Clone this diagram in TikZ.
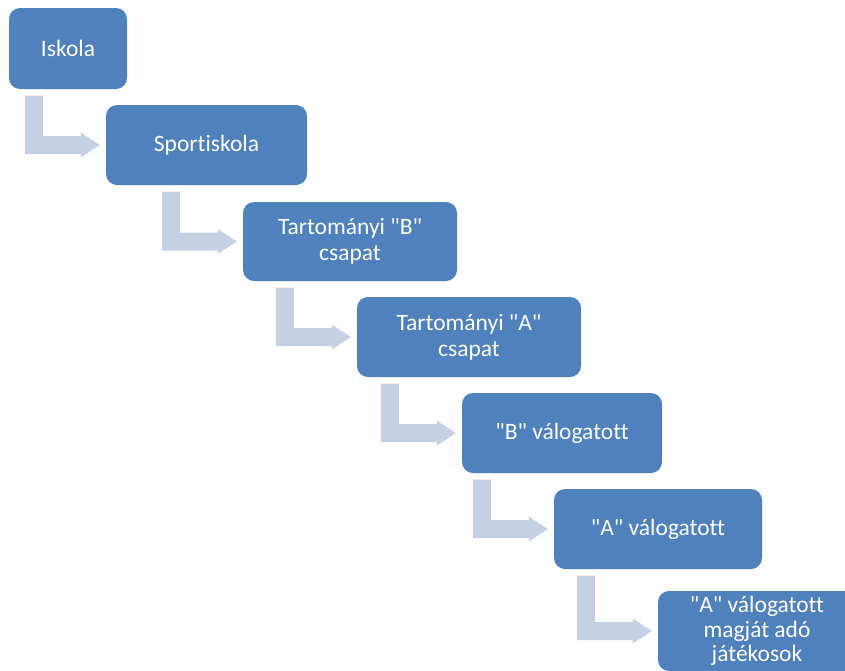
\documentclass[tikz,border=0pt]{standalone}
\usepackage{fontspec}
\newfontfamily\boxfont{Carlito}[Ligatures=NoCommon]
\usetikzlibrary{calc}
\definecolor{boxblue}{RGB}{79,129,189}
\definecolor{arrowcol}{RGB}{197,208,227}
\tikzset{
  stepbox/.style={fill=boxblue, draw=none, rounded corners=11pt, inner sep=2pt,
    align=center, text=white, font=\boxfont\fontsize{23.5}{26}\selectfont},
}
\newcommand{\bentarrow}[2]{%
  \fill[arrowcol] let \p1=(#1.south), \p2=(#2.west) in
    (\x2-81pt,\y1-6.5pt) -- (\x2-63pt,\y1-6.5pt) -- (\x2-63pt,\y2+9pt)
    -- (\x2-25pt,\y2+9pt) -- (\x2-25pt,\y2+12.5pt) -- (\x2-6pt,\y2)
    -- (\x2-25pt,\y2-12.5pt) -- (\x2-25pt,\y2-9pt) -- (\x2-81pt,\y2-9pt) -- cycle;}
\begin{document}
\begin{tikzpicture}[x=1pt,y=-1pt]
\useasboundingbox (0,0) rectangle (845,670);
\clip (0,0) rectangle (845,670);
\node[stepbox, minimum width=118pt, minimum height=81pt] (b1) at (68,48.5) {Iskola};
\node[stepbox, minimum width=201pt, minimum height=80pt] (b2) at (206.5,145) {Sportiskola};
\node[stepbox, minimum width=214pt, minimum height=79pt] (b3) at (350,241.5) {Tartományi "B"\\csapat};
\node[stepbox, minimum width=224pt, minimum height=80pt] (b4) at (469,337) {Tartományi "A"\\csapat};
\node[stepbox, minimum width=200pt, minimum height=80pt] (b5) at (562,433) {"B" válogatott};
\node[stepbox, minimum width=208pt, minimum height=80pt] (b6) at (658,529) {"A" válogatott};
\node[stepbox, minimum width=198pt, minimum height=80pt, font=\boxfont\fontsize{23.5}{24.5}\selectfont] (b7) at (757,631) {"A" válogatott\\magját adó\\játékosok};
\bentarrow{b1}{b2}
\bentarrow{b2}{b3}
\bentarrow{b3}{b4}
\bentarrow{b4}{b5}
\bentarrow{b5}{b6}
\bentarrow{b6}{b7}
\end{tikzpicture}
\end{document}
